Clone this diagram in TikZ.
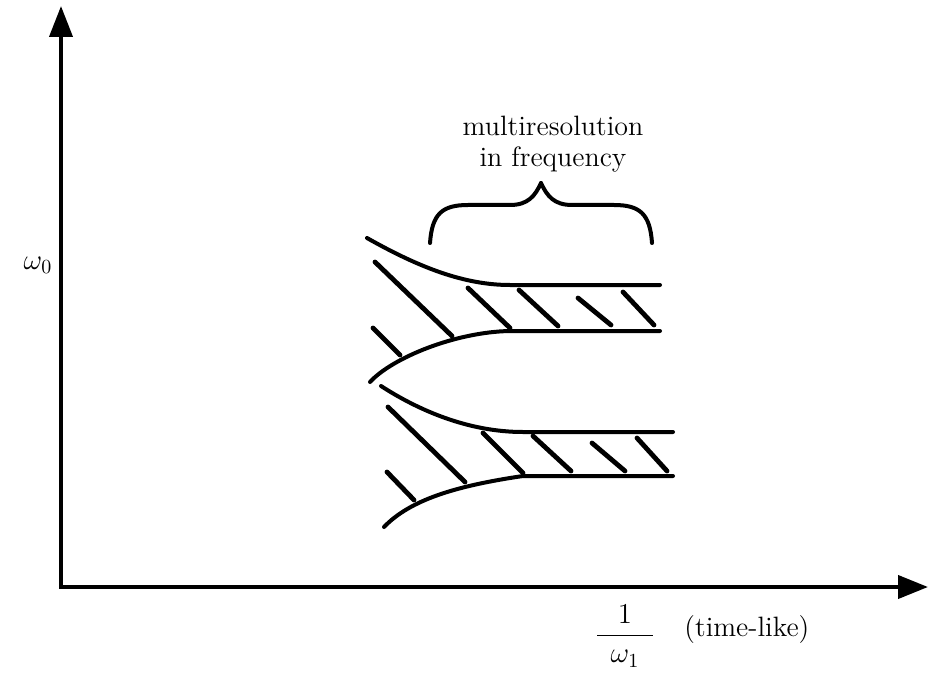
\documentclass[tikz,border=0pt]{standalone}
\usepackage{amsmath,amsfonts,amssymb}
\usepackage{tikz}
\usetikzlibrary{arrows.meta}
\tikzstyle{axis} = [line width=2pt, line join=miter, {Triangle[length=15.5pt,width=11.5pt]}-{Triangle[length=15pt,width=11.5pt]}]
\tikzstyle{band} = [line width=2pt, line cap=round]
\tikzstyle{hatch} = [line width=2.4pt, line cap=round]
\tikzstyle{txt} = [inner sep=0pt, font=\fontsize{14}{15.5}\selectfont]

\begin{document}
\begin{tikzpicture}[x=0.5pt,y=-0.5pt]
  \useasboundingbox (0,0) rectangle (929,673);
  \coordinate (O) at (61,587);
  \coordinate (Y_tip) at (61,6);
  \coordinate (X_tip) at (928,587);
  \draw[axis] (Y_tip) -- (O) -- (X_tip);

  \node[txt] (omega_null) at (38,265) {$\omega_0$};
  \node[txt, align=center] (multi) at (553,144) {multiresolution\\in frequency};
  \node[txt] (inv_omega) at (625,636) {$\dfrac{\mkern13mu 1\mkern13mu}{\omega_1}$};
  \node[txt, anchor=west] (timelike) at (684,630) {(time-like)};

  % brace
  \draw[band] (430,243) .. controls (432,214) and (442,205) .. (468,205) -- (510,205)
    .. controls (528,205) and (535,196) .. (541,183);
  \draw[band] (652,243) .. controls (650,214) and (640,205) .. (614,205) -- (572,205)
    .. controls (554,205) and (547,196) .. (541,183);

  % upper band
  \draw[band] (367,238) .. controls (420,268) and (465,285) .. (510,285) -- (660,285);
  \draw[band] (370,382) .. controls (392,358) and (455,332) .. (510,331) -- (660,331);
  % lower band
  \draw[band] (381,386) .. controls (418,410) and (468,432) .. (523,432) -- (673,432);
  \draw[band] (384,527) .. controls (410,500) and (455,486) .. (523,476) -- (673,476);

  \foreach \a/\b/\c/\d in {375/262/452/336, 373/328/400/355, 468/288/510/328,
      519/290/558/326, 578/298/611/325, 623/292/654/325,
      388/407/465/482, 387/472/414/500, 483/433/523/473,
      533/436/571/471, 592/443/625/471, 637/438/667/471}
    \draw[hatch] (\a,\b) -- (\c,\d);
\end{tikzpicture}
\end{document}
